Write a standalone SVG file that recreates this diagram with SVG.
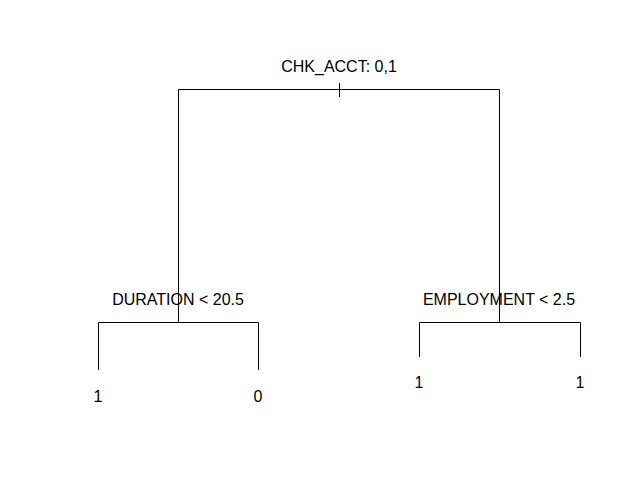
<svg xmlns="http://www.w3.org/2000/svg" width="640" height="480" viewBox="0 0 640 480">
<style>
text{font-family:"Liberation Sans",Arial,sans-serif;font-size:16px;fill:#000;text-anchor:middle}
.e{stroke:#000;stroke-width:1;fill:none}
</style>
<rect width="640" height="480" fill="#fff"/>
<g id="connectors">
<path class="e" d="M178.5,322 V89.5 H499.5 V322"/>
<path class="e" d="M339.5,83 V97"/>
<path class="e" d="M98.5,370 V322.5 H258.5 V370"/>
<path class="e" d="M419.5,357 V322.5 H580.5 V357"/>
</g>
<g id="root"><text x="339" y="71.5">CHK_ACCT: 0,1</text></g>
<g id="duration"><text x="178" y="304.5">DURATION &lt; 20.5</text></g>
<g id="employment"><text x="499" y="304.5">EMPLOYMENT &lt; 2.5</text></g>
<g id="leaf1"><text x="98" y="401.5">1</text></g>
<g id="leaf2"><text x="258" y="401.5">0</text></g>
<g id="leaf3"><text x="419" y="387.5">1</text></g>
<g id="leaf4"><text x="580" y="387.5">1</text></g>
</svg>
